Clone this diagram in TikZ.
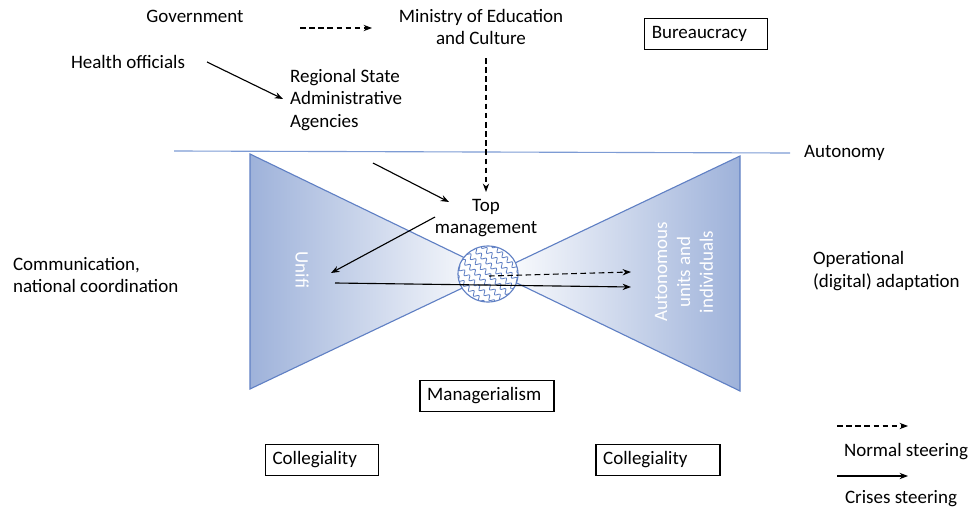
\documentclass[tikz,border=0pt]{standalone}
\usepackage{fontspec}
\setmainfont{Carlito}
\usetikzlibrary{arrows.meta, calc, positioning, shapes.geometric, decorations.pathmorphing}
\definecolor{edgeBlue}{RGB}{96,128,196}
\definecolor{triBlue}{RGB}{158,178,218}
\definecolor{lineBlue}{RGB}{125,155,212}

\begin{document}
\begin{tikzpicture}[x=0.025cm, y=-0.025cm, >={Stealth[length=6pt,width=4.5pt]},
    every node/.style={font=\fontsize{13.5}{16.3}\selectfont, inner sep=2pt},
    box/.style={draw, line width=0.8pt, minimum height=0.78cm, inner xsep=0.18cm, align=left},
    edge/.style={edgeBlue, line width=0.8pt},
    steer/.style={->, line width=0.8pt},
    normal/.style={->, line width=0.8pt, dash pattern=on 4pt off 2.5pt},
    inside/.style={white, align=center},
    hub/.style={ellipse, draw=edgeBlue, line width=0.8pt, fill=white, inner sep=0pt,
        minimum width=1.5cm, minimum height=1.4cm,
        path picture={
            \foreach \k in {-7,...,7}
                \draw[edgeBlue, line width=0.6pt, decorate, decoration={snake, segment length=5pt, amplitude=1.5pt}]
                    ($(path picture bounding box.center)+(\k*0.14cm,\k*0.14cm)+(-1cm,1cm)$) -- ++(2cm,-2cm);
        }}]
    \useasboundingbox (0,0) rectangle (973,513);

    \coordinate (TL) at (250,154);
    \coordinate (BL) at (250,389);
    \coordinate (TR) at (740,156);
    \coordinate (BR) at (740,391);
    \coordinate (X) at (intersection of TL--BR and BL--TR);

    % bow tie
    \shade[left color=triBlue, middle color=triBlue!70, right color=white] (TL) -- (X) -- (BL) -- cycle;
    \shade[left color=white, middle color=triBlue!70, right color=triBlue] (TR) -- (X) -- (BR) -- cycle;
    \draw[edge] (TL) -- (X) -- (BL) -- cycle;
    \draw[edge] (TR) -- (X) -- (BR) -- cycle;

    % autonomy line
    \coordinate (autoL) at (174,151);
    \coordinate (autoR) at (790,153);
    \draw[lineBlue, line width=0.8pt] (autoL) -- (autoR);
    \node[anchor=west] (autonomy) at (801,153) {Autonomy};

    \node[hub] (hub) at (488,274) {};

    % actors
    \node (gov) at (195,16) {Government};
    \node[align=center] (ministry) at (481,27) {Ministry of Education\\and Culture};
    \node (health) at (128,62) {Health officials};
    \node[anchor=west, align=left] (rsaa) at (287,100) {Regional State\\Administrative\\Agencies};
    \node[align=center] (top) at (486,218) {Top\\management};
    \node[anchor=west, align=left] (comm) at (10,275) {Communication,\\national coordination};
    \node[anchor=west, align=left] (oper) at (810,271) {Operational\\(digital) adaptation};
    \node[inside, rotate=-90] (unifi) at (302,270) {Unifi};
    \node[inside, rotate=90] (units) at (684,272) {Autonomous\\units and\\individuals};

    % boxes
    \node[box, text width=2.71cm] (bureau) at (706,34) {Bureaucracy};
    \node[box, text width=2.99cm] (manager) at (487,396) {Managerialism};
    \node[box, text width=2.47cm] (collegL) at (322,460) {Collegiality};
    \node[box, text width=2.74cm] (collegR) at (658,460) {Collegiality};

    % steering
    \coordinate (govE) at (300,28);  \coordinate (minW) at (372,28);
    \coordinate (minS) at (486,58);  \coordinate (topN) at (486,192);
    \coordinate (healthE) at (207,62);  \coordinate (rsaaW) at (283,99);
    \coordinate (rsaaS) at (373,163);  \coordinate (topW) at (449,202);
    \coordinate (topSW) at (435,217);  \coordinate (unifiE) at (331,273);
    \coordinate (crisS) at (335,283);  \coordinate (crisE) at (631,287);
    \coordinate (normS) at (489,276);  \coordinate (normE) at (631,272);
    \draw[normal] (govE) -- (minW);
    \draw[normal] (minS) -- (topN);
    \draw[steer] (healthE) -- (rsaaW);
    \draw[steer] (rsaaS) -- (topW);
    \draw[steer] (topSW) -- (unifiE);
    \draw[steer] (crisS) -- (crisE);
    \draw[normal] (normS) -- (normE);

    % legend
    \coordinate (legA) at (837,426); \coordinate (legB) at (908,426);
    \coordinate (legC) at (837,476); \coordinate (legD) at (908,476);
    \draw[normal] (legA) -- (legB);
    \draw[steer] (legC) -- (legD);
    \node[anchor=west] (normalLbl) at (841,452) {Normal steering};
    \node[anchor=west] (crisesLbl) at (842,499) {Crises steering};
\end{tikzpicture}
\end{document}
